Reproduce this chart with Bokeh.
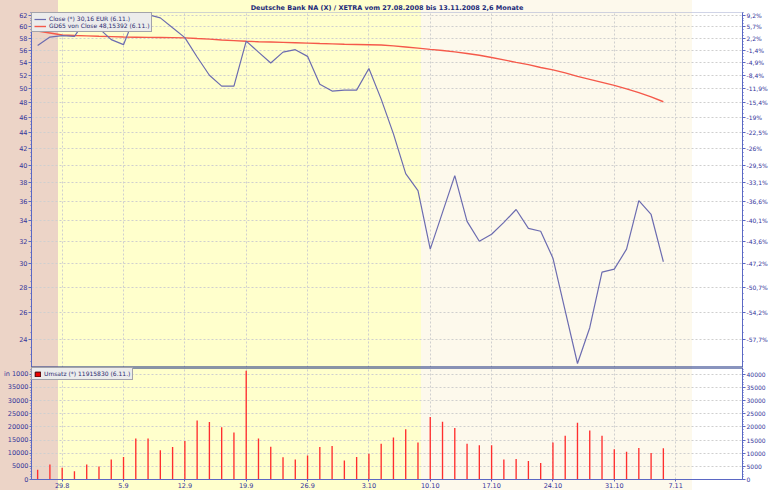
from bokeh.plotting import figure
from bokeh.models import (Range1d, LinearAxis, FixedTicker, BasicTickFormatter,
                          Legend, LegendItem, Span)
from bokeh.layouts import column
from bokeh.embed import file_html
from bokeh.resources import INLINE

# ---------------- data ----------------
title_text = "Deutsche Bank NA (X) / XETRA vom 27.08.2008 bis 13.11.2008 2,6 Monate"

trading_days = ["27.8", "28.8", "29.8", "1.9", "2.9", "3.9", "4.9", "5.9", "8.9", "9.9",
                "10.9", "11.9", "12.9", "15.9", "16.9", "17.9", "18.9", "19.9", "22.9", "23.9",
                "24.9", "25.9", "26.9", "29.9", "30.9", "1.10", "2.10", "3.10", "6.10", "7.10",
                "8.10", "9.10", "10.10", "13.10", "14.10", "15.10", "16.10", "17.10", "20.10", "21.10",
                "22.10", "23.10", "24.10", "27.10", "28.10", "29.10", "30.10", "31.10", "3.11", "4.11",
                "5.11", "6.11"]
future_days = ["7.11", "10.11", "11.11", "12.11", "13.11"]

close = [56.76, 58.17, 58.41, 58.29, 61.4, 59.66, 57.73, 56.89, 62.3, 62.1,
         61.53, 59.77, 58.07, 54.87, 52.03, 50.39, 50.39, 57.49, 55.67, 53.92,
         55.67, 56.06, 54.98, 50.68, 49.67, 49.81, 49.81, 53.06, 48.52, 43.83,
         39.02, 37.14, 31.29, 34.84, 38.79, 33.94, 32.02, 32.68, 33.84, 35.14,
         33.25, 32.97, 30.48, 26.13, 22.40, 24.87, 29.26, 29.52, 31.29, 36.07,
         34.63, 30.16]

gd65 = [59.19, 58.86, 58.52, 58.43, 58.38, 58.30, 58.24, 58.18, 58.15, 58.12,
        58.10, 58.07, 58.03, 57.92, 57.82, 57.68, 57.57, 57.45, 57.38, 57.33,
        57.27, 57.21, 57.15, 57.08, 57.02, 56.96, 56.92, 56.88, 56.83, 56.69,
        56.51, 56.31, 56.11, 55.92, 55.71, 55.45, 55.15, 54.79, 54.41, 54.03,
        53.66, 53.22, 52.84, 52.38, 51.85, 51.40, 50.95, 50.50, 50.00, 49.45,
        48.85, 48.15]

umsatz = [3750, 5750, 4500, 3100, 5750, 4900, 7600, 8600, 15600, 15600,
          11100, 12400, 14600, 22400, 21900, 19900, 17900, 41400, 15600, 12500,
          8500, 7600, 9100, 12400, 12750, 7250, 8600, 9750, 13600, 16000,
          19100, 14100, 23750, 22000, 19600, 13600, 13000, 13000, 7600, 7750,
          7000, 6250, 14100, 16600, 21600, 18600, 16600, 11500, 10600, 12000,
          10100, 11916]

week_labels = ["29.8", "5.9", "12.9", "19.9", "26.9", "3.10", "10.10", "17.10", "24.10", "31.10", "7.11"]
price_ticks = [24, 26, 28, 30, 32, 34, 36, 38, 40, 42, 44, 46, 48, 50, 52, 54, 56, 58, 60, 62]
pct_labels = ["-57,7%", "-54,2%", "-50,7%", "-47,2%", "-43,6%", "-40,1%", "-36,6%", "-33,1%",
              "-29,5%", "-26%", "-22,5%", "-19%", "-15,4%", "-11,9%", "-8,4%", "-4,9%",
              "-1,4%", "2,2%", "5,7%", "9,2%"]
vol_ticks = [0, 5000, 10000, 15000, 20000, 25000, 30000, 35000, 40000]

legend_close = "Close (*) 30,16 EUR (6.11.)"
legend_gd = "GD65 von Close 48,15392 (6.11.)"
legend_vol = "Umsatz (*) 11915830 (6.11.)"
unit_text = "in 1000"

# --------------- styling ---------------
FONT = "DejaVu Sans"
AXIS_COL = "#5b68c4"
LBL_COL = "#34349a"
GRID_COL = "#cfcfcf"
NAVY = "#142a7e"
PINK, YELLOW, CREAM, WHITE = "#ecd4c7", "#ffffcc", "#fdf9ec", "#ffffff"
band_edges = [1.7, 31.2, 53.2]  # x positions where background bands change

calendar = trading_days + future_days
idx = list(range(len(trading_days)))
x_ticks = [calendar.index(d) for d in week_labels]
x_range = Range1d(-0.5, len(calendar) + 0.45)

W = 770
BL, BR = 31, 26
FW = W - BL - BR
H1, H2 = 367, 123


def px(v):
    return BL + (v - x_range.start) / (x_range.end - x_range.start) * FW


def gradient():
    a, b, c = (round(px(e), 1) for e in band_edges)
    return (f"linear-gradient(90deg, {PINK} 0px, {PINK} {a}px, {YELLOW} {a}px, {YELLOW} {b}px, "
            f"{CREAM} {b}px, {CREAM} {c}px, {WHITE} {c}px, {WHITE} 100%)")


def style_axis(ax, size="6.5px"):
    if "background_fill_color" in ax.properties():
        ax.background_fill_color = None
    ax.axis_line_color = AXIS_COL
    ax.major_tick_line_color = AXIS_COL
    ax.minor_tick_line_color = AXIS_COL
    ax.major_tick_out = 3
    ax.major_tick_in = 0
    ax.minor_tick_out = 1
    ax.minor_tick_in = 0
    ax.major_label_standoff = 1
    ax.major_label_text_font = FONT
    ax.major_label_text_font_size = size
    ax.major_label_text_color = LBL_COL


def style_legend(lg):
    lg.location = "top_left"
    lg.margin = 0
    lg.padding = 2
    lg.spacing = 0
    lg.glyph_width = 12
    lg.glyph_height = 6
    lg.label_height = 6
    lg.label_standoff = 3
    lg.label_text_font = FONT
    lg.label_text_font_size = "6px"
    lg.label_text_color = "#2a2a6e"
    lg.border_line_color = "#5a5a6a"
    lg.border_line_width = 1
    lg.background_fill_color = "#ececec"
    lg.background_fill_alpha = 1


def base_fig(height, y_range, y_type="linear"):
    f = figure(width=W, height=height, x_range=x_range, y_range=y_range, y_axis_type=y_type,
               x_axis_location=None, y_axis_location=None,
               output_backend="svg", toolbar_location=None,
               min_border_left=BL, min_border_right=BR, min_border_top=0, min_border_bottom=0)
    f.border_fill_color = None
    f.background_fill_color = None
    f.outline_line_color = None
    f.styles = {"background": gradient()}
    f.xgrid.ticker = FixedTicker(ticks=x_ticks)
    for g in (f.xgrid, f.ygrid):
        g.grid_line_color = GRID_COL
        g.grid_line_dash = "2 2"
    return f


# --------------- upper panel: price ---------------
p1 = base_fig(H1, Range1d(22.14, 62.5), "log")
p1.title.text = title_text
p1.title.align = "center"
p1.title.text_font = FONT
p1.title.text_font_size = "6.5px"
p1.title.text_font_style = "bold"
p1.title.text_color = "#1c2a78"
p1.title.standoff = 2
if "background_fill_color" in p1.title.properties():
    p1.title.background_fill_color = None

minor_price = [22.5 + 0.5 * k for k in range(81)]
ax_l = LinearAxis(ticker=FixedTicker(ticks=price_ticks, minor_ticks=minor_price),
                  formatter=BasicTickFormatter())
ax_r = LinearAxis(ticker=FixedTicker(ticks=price_ticks, minor_ticks=minor_price),
                  major_label_overrides={t: s for t, s in zip(price_ticks, pct_labels)})
style_axis(ax_l)
style_axis(ax_r, "6px")
p1.add_layout(ax_l, "left")
p1.add_layout(ax_r, "right")
p1.ygrid.ticker = FixedTicker(ticks=price_ticks)

p1.add_layout(Span(location=p1.y_range.end, dimension="width", line_color="#a2a9cf", line_width=1))
p1.add_layout(Span(location=p1.y_range.start, dimension="width", line_color=NAVY, line_width=2))

r_gd = p1.line(idx, gd65, line_color="#f5594a", line_width=1.4)
r_close = p1.line(idx, close, line_color="#6c6cb0", line_width=1.2)

lg1 = Legend(items=[LegendItem(label=legend_close, renderers=[r_close]),
                    LegendItem(label=legend_gd, renderers=[r_gd])])
style_legend(lg1)
p1.add_layout(lg1, "center")

# --------------- lower panel: volume ---------------
p2 = base_fig(H2, Range1d(0, 42600))

xax = LinearAxis(ticker=FixedTicker(ticks=x_ticks),
                 major_label_overrides={i: calendar[i] for i in x_ticks})
style_axis(xax)
xax.major_tick_out = 2
xax.major_label_standoff = 1
p2.add_layout(xax, "below")

vol_minor = list(range(0, 43000, 1000))
# left axis: the top tick carries the unit note instead of a number
ax2_l = LinearAxis(ticker=FixedTicker(ticks=vol_ticks, minor_ticks=vol_minor),
                   formatter=BasicTickFormatter(use_scientific=False),
                   major_label_overrides={vol_ticks[-1]: unit_text})
ax2_r = LinearAxis(ticker=FixedTicker(ticks=vol_ticks, minor_ticks=vol_minor),
                   formatter=BasicTickFormatter(use_scientific=False))
style_axis(ax2_l)
ax2_l.major_tick_out = 2
style_axis(ax2_r, "6px")
p2.add_layout(ax2_l, "left")
p2.add_layout(ax2_r, "right")
p2.ygrid.ticker = FixedTicker(ticks=vol_ticks)

p2.vbar(x=idx, top=umsatz, bottom=0, width=0.11, fill_color="#ff2e2e", line_color=None)
# legend swatch (zero-sized, carries the legend's square)
r_sq = p2.rect(x=idx[-1:], y=[0], width=0, height=0, fill_color="#ee0000", line_color="#3a0000")

p2.add_layout(Span(location=p2.y_range.end, dimension="width", line_color=NAVY, line_width=2))

lg2 = Legend(items=[LegendItem(label=legend_vol, renderers=[r_sq])])
style_legend(lg2)
lg2.glyph_width = 7
p2.add_layout(lg2, "center")

layout = column(p1, p2, spacing=0)
open("out.html", "w").write(file_html(layout, INLINE))
